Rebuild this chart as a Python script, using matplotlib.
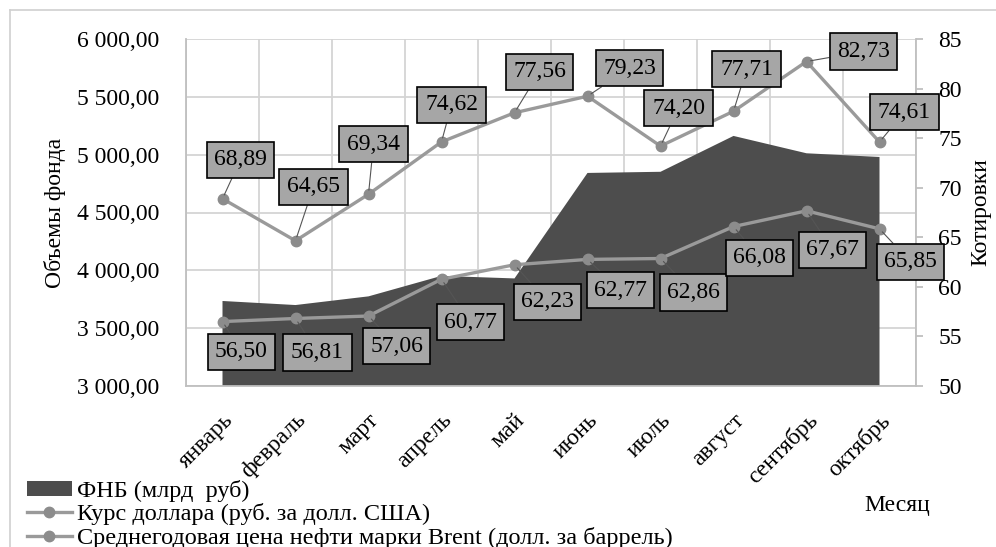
import matplotlib.pyplot as plt
from matplotlib.lines import Line2D
from matplotlib.patches import Patch
from matplotlib.ticker import FuncFormatter, MultipleLocator, FixedLocator

plt.rcParams['font.family'] = ['Liberation Serif', 'DejaVu Serif']

# Data
months = ['январь', 'февраль', 'март', 'апрель', 'май', 'июнь', 'июль',
          'август', 'сентябрь', 'октябрь']
fnb = [3735, 3700, 3775, 3952, 3930, 4842, 4852, 5162, 5012, 4980]
usd = [56.50, 56.81, 57.06, 60.77, 62.23, 62.77, 62.86, 66.08, 67.67, 65.85]
brent = [68.89, 64.65, 69.34, 74.62, 77.56, 79.23, 74.20, 77.71, 82.73, 74.61]

# label box offsets from point, in pixels (x right, y down)
usd_off = [(19, 30), (22, 34), (28, 30), (29, 43), (33, 37), (33, 31),
           (33, 34), (26, 31), (26, 39), (31, 33)]
brent_off = [(18, -39), (18, -54), (5, -50), (10, -37), (25, -41), (42, -28),
             (18, -38), (13, -42), (57, -10), (25, -30)]

W, H = 996, 547
FS = 17
fig = plt.figure(figsize=(W / 100, H / 100), dpi=100)
ax = fig.add_axes([186 / W, 1 - 386 / H, 730 / W, 347 / H])
ax2 = ax.twinx()

x = list(range(len(months)))
grey_axis = '#bfbfbf'
line_col = '#9a9a9a'
mark_col = '#8c8c8c'

# area (ФНБ)
ax.fill_between(x, 0, fnb, color='#4d4d4d', lw=0, zorder=1)
ax.set_xlim(-0.5, len(months) - 0.5)
ax.set_ylim(3000, 6000)
ax.yaxis.set_major_locator(MultipleLocator(500))
ax.yaxis.set_major_formatter(FuncFormatter(
    lambda v, p: f"{v:,.2f}".replace(',', ' ').replace('.', ',')))
ax.set_axisbelow(True)
ax.grid(axis='y', color='#d4d4d4', lw=1.3)
ax.xaxis.set_minor_locator(FixedLocator([i - 0.5 for i in range(len(months) + 1)]))
ax.grid(axis='x', which='minor', color='#d4d4d4', lw=1.3)
ax.set_xticks(x)
ax.set_xticklabels(months, rotation=45, ha='right', va='top',
                   rotation_mode='anchor', fontsize=FS)
ax.tick_params(axis='x', which='both', length=0, pad=17)
ax.tick_params(axis='y', length=0, pad=19, labelsize=FS)
for s in ['top', 'right']:
    ax.spines[s].set_visible(False)
for s in ['left', 'bottom']:
    ax.spines[s].set_color(grey_axis)
    ax.spines[s].set_linewidth(1.3)

# lines on secondary axis
ax2.plot(x, usd, color=line_col, lw=2.4, marker='o', ms=7.5,
         mfc=mark_col, mec=mark_col, zorder=3)
ax2.plot(x, brent, color=line_col, lw=2.4, marker='o', ms=7.5,
         mfc=mark_col, mec=mark_col, zorder=3)
ax2.set_ylim(50, 85)
ax2.yaxis.set_major_locator(MultipleLocator(5))
ax2.tick_params(axis='y', direction='out', length=5, width=1.3, color=grey_axis,
                pad=11, labelsize=FS)
for s in ['top', 'left', 'bottom']:
    ax2.spines[s].set_visible(False)
ax2.spines['right'].set_color(grey_axis)
ax2.spines['right'].set_linewidth(1.3)

box = dict(boxstyle='square,pad=0.32', fc='#a6a6a6', ec='black', lw=1.2)
arrow = dict(arrowstyle='-', color='#555555', lw=0.8, shrinkA=0, shrinkB=3)
for vals, offs in [(usd, usd_off), (brent, brent_off)]:
    for i, v in enumerate(vals):
        ax2.annotate(f"{v:.2f}".replace('.', ','), (i, v),
                     xytext=(offs[i][0], -offs[i][1]), textcoords='offset pixels',
                     ha='center', va='center', fontsize=FS, bbox=box,
                     arrowprops=arrow, zorder=5)

ax.set_ylabel('Объемы фонда', fontsize=FS, labelpad=8)
ax2.set_ylabel('Котировки', fontsize=FS, labelpad=6)
fig.text(897 / W, 1 - 505 / H, 'Месяц', fontsize=FS, ha='center', va='center')

# legend
handles = [
    Patch(facecolor='#4d4d4d', edgecolor='none'),
    Line2D([], [], color=line_col, lw=2.4, marker='o', ms=7.5, mfc=mark_col, mec=mark_col),
    Line2D([], [], color=line_col, lw=2.4, marker='o', ms=7.5, mfc=mark_col, mec=mark_col),
]
labels = ['ФНБ (млрд  руб)', 'Курс доллара (руб. за долл. США)',
          'Среднегодовая цена нефти марки Brent (долл. за баррель)']
fig.legend(handles, labels, loc='upper left', bbox_to_anchor=(27 / W, 1 - 480 / H),
           frameon=False, fontsize=17.5, handlelength=1.85, handleheight=0.55,
           handletextpad=0.2, labelspacing=0.06, borderpad=0, borderaxespad=0)

# chart border
fig.add_artist(Line2D([10 / W, 1], [1 - 10 / H, 1 - 10 / H], color='#d0d0d0', lw=1.2))
fig.add_artist(Line2D([10 / W, 10 / W], [0, 1 - 10 / H], color='#d0d0d0', lw=1.2))

fig.savefig('out.png', dpi=100)
